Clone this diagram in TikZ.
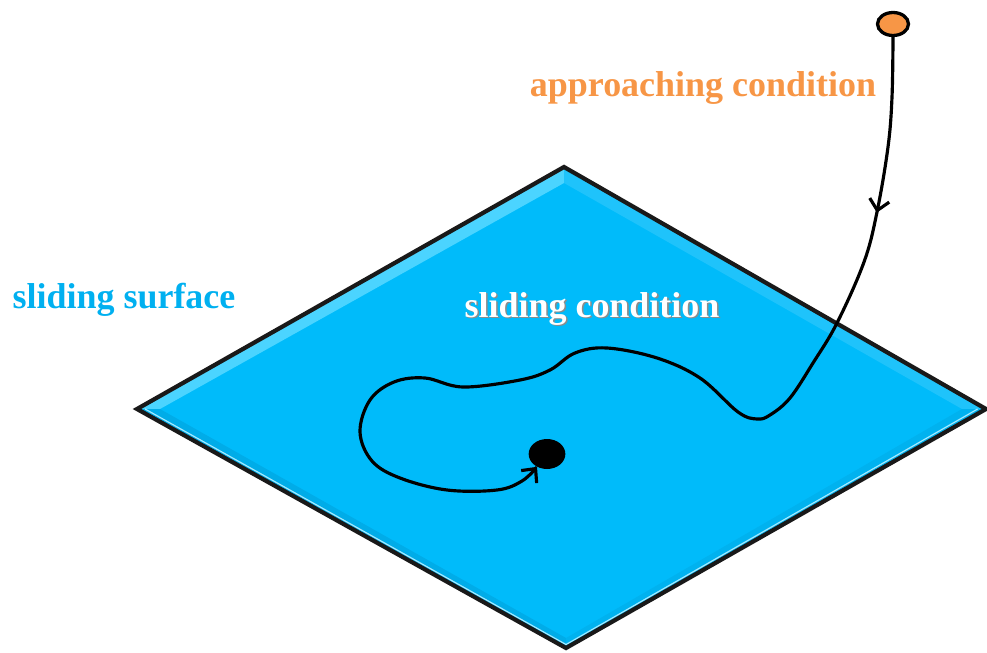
\documentclass[tikz,border=0pt]{standalone}
\usepackage{fontspec}
\setmainfont{Liberation Serif}
\usepackage{xcolor}
\usetikzlibrary{arrows.meta,calc,shapes.geometric,decorations.markings}
\definecolor{surf}{RGB}{0,187,250}
\definecolor{surflight}{RGB}{75,212,255}
\definecolor{surfdark}{RGB}{0,172,232}
\definecolor{approach}{RGB}{247,150,70}
\definecolor{surftext}{RGB}{0,176,240}
\newcommand\shadowed[1]{\makebox[0pt][l]{\hspace{1.3pt}\raisebox{-1.3pt}{\color{black!45}#1}}#1}

\begin{document}
\begin{tikzpicture}[x=0.03cm,y=-0.03cm,
  lbl/.style={font=\fontsize{30.7}{34}\selectfont\bfseries,anchor=base,inner sep=0pt},
  barb/.tip={Straight Barb[length=9pt,width=17pt]}]
\useasboundingbox (0,0) rectangle (987,653);
% surface
\coordinate (T) at (564,167);
\coordinate (L) at (137,409);
\coordinate (B) at (566,648);
\coordinate (R) at (986,409);
\coordinate (Ti) at (564,183);
\coordinate (Li) at (160,409);
\coordinate (Bi) at (566,638);
\coordinate (Ri) at (962,409);
\fill[surf] (T)--(L)--(B)--(R)--cycle;
\fill[surflight] (T)--(L)--(Li)--(Ti)--cycle;
\fill[surf!88!white] (T)--(R)--(Ri)--(Ti)--cycle;
\fill[surfdark] (L)--(B)--(Bi)--(Li)--cycle;
\fill[surfdark!60!surf] (B)--(R)--(Ri)--(Bi)--cycle;
\draw[surflight!50!white,line width=1pt] ($(L)!0.35!(Li)$)--($(B)!0.35!(Bi)$)--($(R)!0.35!(Ri)$);
\draw[black!90,line width=3.6pt,line join=miter] (T)--(L)--(B)--(R)--cycle;
% labels
\node[lbl,text=approach] (apptext) at (703,97) {approaching condition};
\node[lbl,text=surftext] (surftext) at (124,308) {sliding surface};
\node[lbl,text=white] (condtext) at (592,317) {\shadowed{sliding condition}};
% start and equilibrium points
\node[ellipse,draw=black,line width=2.8pt,fill=approach,inner sep=0pt,
  minimum width=0.93cm,minimum height=0.69cm] (start) at (893,24) {};
\node[ellipse,fill=black,inner sep=0pt,
  minimum width=1.1cm,minimum height=0.9cm] (goal) at (547,454) {};
% trajectory
\draw[line width=2.7pt,-barb,
  postaction={decorate},
  decoration={markings,mark=at position 5.3cm with {\arrow{barb}}}]
  plot[smooth,tension=0.6] coordinates {(start.south) (892,97) (888,147)
    (877,212) (864,262) (837,323) (813,363) (790,398) (770,415) (757,419)
    (738,412) (700,378) (657,358) (607,348) (575,353) (550,370) (520,380)
    (463,387) (425,378) (394,382) (370,400) (360,432) (372,461) (400,478)
    (447,490) (497,490) (522,481) (goal.232)};
\end{tikzpicture}
\end{document}
